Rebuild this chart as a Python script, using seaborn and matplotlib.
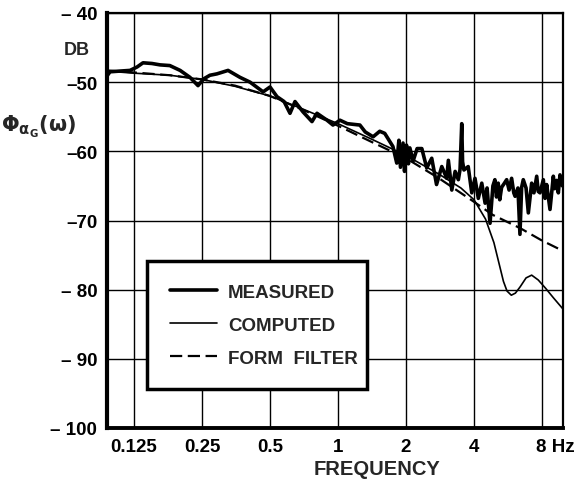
import numpy as np
import pandas as pd
import matplotlib
matplotlib.use("Agg")
import matplotlib.pyplot as plt
import matplotlib.transforms as mtransforms
from matplotlib.ticker import NullLocator
import seaborn as sns

# ---------------- data ----------------
measured_freq = [0.0949, 0.0979, 0.108, 0.120, 0.129, 0.137, 0.150, 0.163, 0.180, 0.200,
                 0.221, 0.240, 0.255, 0.271, 0.291, 0.326, 0.368, 0.408, 0.466, 0.500,
                 0.537, 0.577, 0.613, 0.645, 0.700, 0.767, 0.807, 0.894, 0.950, 1.02,
                 1.10, 1.25, 1.32, 1.43, 1.53, 1.61, 1.75, 1.82, 1.86, 1.89, 1.94, 1.97,
                 2.01, 2.05, 2.08, 2.15, 2.24, 2.35, 2.47, 2.60, 2.73, 2.88, 3.03,
                 3.08, 3.19, 3.30, 3.41, 3.47, 3.53, 3.56, 3.61, 3.77, 3.91, 4.04, 4.18,
                 4.33, 4.48, 4.57, 4.71, 4.85, 4.95, 5.03, 5.12, 5.20, 5.30, 5.43, 5.58,
                 5.72, 5.87, 6.00, 6.08, 6.26, 6.39, 6.50, 6.61, 6.80, 6.96, 7.20, 7.37,
                 7.58, 7.70, 7.84, 8.11, 8.25, 8.39, 8.68, 8.98, 9.10, 9.29, 9.45, 9.61, 9.86]
measured_db = [-49.1, -48.5, -48.4, -48.3, -47.8, -47.2, -47.3, -47.5, -47.6, -48.3,
               -49.3, -50.5, -49.5, -49.0, -48.8, -48.3, -49.3, -50.0, -51.4, -50.7,
               -52.1, -52.8, -54.5, -52.8, -54.3, -55.7, -54.5, -55.5, -56.2, -55.5,
               -56.0, -56.2, -57.2, -57.9, -57.1, -57.4, -59.3, -61.7, -58.4, -62.3, -58.8, -62.9,
               -59.1, -61.8, -59.5, -61.4, -59.6, -59.6, -62.4, -61.0, -64.8, -62.2, -63.9,
               -61.3, -65.6, -62.9, -64.1, -62.6, -56.0, -61.5, -62.7, -62.2, -66.0, -63.9, -66.8,
               -64.6, -67.5, -65.3, -70.4, -65.0, -64.1, -66.6, -64.6, -67.0, -65.2, -64.7, -64.1,
               -65.6, -63.9, -66.0, -66.5, -65.3, -72.0, -65.2, -64.1, -65.3, -68.9, -64.6, -66.0,
               -63.6, -65.8, -66.0, -64.1, -66.8, -64.8, -68.4, -63.6, -65.4, -64.2, -66.0, -63.4, -65.0]

computed_freq = [0.0949, 0.125, 0.18, 0.25, 0.35, 0.5, 0.7, 1.0, 1.4, 2.0,
                 2.8, 3.5, 4.0, 4.5, 4.9, 5.4, 5.6, 5.85, 6.1, 6.4,
                 6.8, 7.2, 7.7, 8.3, 9.0, 9.91]
computed_db = [-48.4, -48.7, -49.0, -49.6, -50.6, -52.0, -53.9, -56.0, -58.2, -60.6,
               -63.3, -65.3, -67.0, -69.8, -73.2, -78.8, -80.2, -80.8, -80.5, -79.6,
               -78.3, -77.9, -78.6, -79.8, -81.2, -82.8]

filter_freq = [0.0949, 0.125, 0.18, 0.25, 0.35, 0.5, 0.7, 1.0, 1.4, 2.0,
               2.8, 4.0, 4.85, 6.4, 8.0, 9.91]
filter_db = [-48.3, -48.6, -49.0, -49.6, -50.5, -52.0, -54.0, -56.3, -58.6, -61.0,
             -63.9, -67.3, -69.2, -71.1, -72.9, -74.4]

series_names = ["MEASURED", "COMPUTED", "FORM  FILTER"]

xticks = [0.125, 0.25, 0.5, 1, 2, 4, 8]
xtick_labels = ["0.125", "0.25", "0.5", "1", "2", "4", "8 Hz"]
yticks = [-100, -90, -80, -70, -60, -50, -40]
ytick_labels = ["\u2013 100", "\u2013 90", "\u2013 80", "\u201370", "\u201360", "\u201350", "\u2013 40"]

# ---------------- style ----------------
sns.set_theme(style="white")
plt.rcParams["font.family"] = ["Liberation Sans", "DejaVu Sans"]
plt.rcParams["font.weight"] = "bold"
plt.rcParams["mathtext.fontset"] = "dejavusans"

fig = plt.figure(figsize=(5.85, 4.89), dpi=100)
ax = fig.add_axes([107 / 585, 1 - 429 / 489, 456 / 585, 415 / 489])

df_m = pd.DataFrame({"f": measured_freq, "db": measured_db})
df_c = pd.DataFrame({"f": computed_freq, "db": computed_db})
df_f = pd.DataFrame({"f": filter_freq, "db": filter_db})

sns.lineplot(data=df_m, x="f", y="db", ax=ax, color="black", linewidth=2.6,
             sort=False, estimator=None, label=series_names[0], zorder=4)
sns.lineplot(data=df_c, x="f", y="db", ax=ax, color="black", linewidth=1.2,
             sort=False, estimator=None, label=series_names[1], zorder=3)
sns.lineplot(data=df_f, x="f", y="db", ax=ax, color="black", linewidth=1.6,
             sort=False, estimator=None, label=series_names[2], zorder=3,
             linestyle=(0, (5.5, 2.5)))

ax.set_xscale("log")
ax.set_xlim(0.0949, 9.91)
ax.set_ylim(-100, -40)
ax.xaxis.set_minor_locator(NullLocator())
ax.set_xticks(xticks)
ax.set_xticklabels(xtick_labels)
ax.set_yticks(yticks)
ax.set_yticklabels(ytick_labels)
ax.tick_params(axis="both", length=0, labelsize=13.5, colors="black")
ax.tick_params(axis="x", pad=7)
ax.tick_params(axis="y", pad=7)
for lab in ax.get_xticklabels() + ax.get_yticklabels():
    lab.set_fontweight("bold")
last = ax.get_xticklabels()[-1]
last.set_horizontalalignment("left")
last.set_transform(last.get_transform() + mtransforms.ScaledTranslation(-6 / 100, 0, fig.dpi_scale_trans))

ax.grid(True, which="major", color="black", linewidth=1.0)
ax.set_axisbelow(True)
ax.set_xlabel("")
ax.set_ylabel("")

for side, lw in [("left", 3.0), ("bottom", 2.8), ("top", 1.6), ("right", 1.6)]:
    ax.spines[side].set_visible(True)
    ax.spines[side].set_color("black")
    ax.spines[side].set_linewidth(lw)

fig.text(377 / 585, 1 - 470 / 489, "FREQUENCY", ha="center", va="center",
         fontsize=14.5, fontweight="bold")
fig.text(77 / 585, 1 - 51 / 489, "DB", ha="center", va="center",
         fontsize=13, fontweight="bold")
fig.text(38 / 585, 1 - 127 / 489, r"$\mathbf{\Phi}_{\mathbf{\alpha}_\mathbf{G}}\mathbf{(\omega)}$",
         ha="center", va="center", fontsize=15)

leg = ax.legend(loc="upper left", bbox_to_anchor=(0.088, 0.089, 0.482, 0.313),
                mode="expand", frameon=True, fancybox=False, shadow=False,
                fontsize=13.5, handlelength=2.5, handletextpad=0.6,
                borderpad=1.2, labelspacing=0.85, borderaxespad=0)
leg.get_frame().set_edgecolor("black")
leg.get_frame().set_linewidth(2.5)
leg.get_frame().set_facecolor("white")
leg.get_frame().set_alpha(1)
for t in leg.get_texts():
    t.set_fontweight("bold")

fig.savefig("out.png", dpi=100)
